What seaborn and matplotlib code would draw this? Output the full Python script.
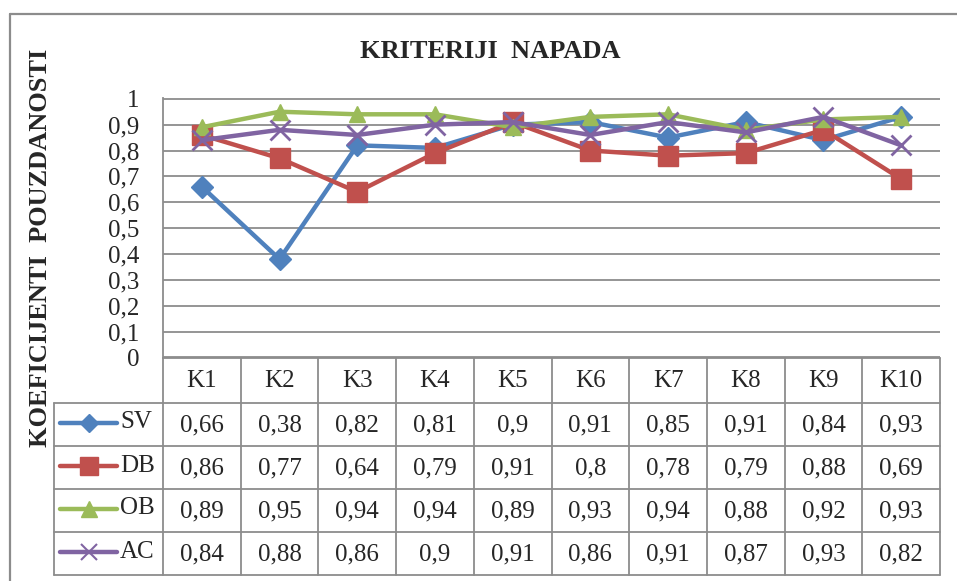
import matplotlib
matplotlib.use("Agg")
import matplotlib.pyplot as plt
import seaborn as sns
import pandas as pd

# podaci
kriteriji = ["K1", "K2", "K3", "K4", "K5", "K6", "K7", "K8", "K9", "K10"]
sv = [0.66, 0.38, 0.82, 0.81, 0.90, 0.91, 0.85, 0.91, 0.84, 0.93]
db = [0.86, 0.77, 0.64, 0.79, 0.91, 0.80, 0.78, 0.79, 0.88, 0.69]
ob = [0.89, 0.95, 0.94, 0.94, 0.89, 0.93, 0.94, 0.88, 0.92, 0.93]
ac = [0.84, 0.88, 0.86, 0.90, 0.91, 0.86, 0.91, 0.87, 0.93, 0.82]
serije = ["SV", "DB", "OB", "AC"]
y_ticks = [0, 0.1, 0.2, 0.3, 0.4, 0.5, 0.6, 0.7, 0.8, 0.9, 1.0]

vrijednosti = {"SV": sv, "DB": db, "OB": ob, "AC": ac}
df = pd.DataFrame([
    {"kriterij": i, "serija": s, "vrijednost": v}
    for s in serije for i, v in enumerate(vrijednosti[s])
])

boje = {"SV": "#4F81BD", "DB": "#C0504D", "OB": "#9BBB59", "AC": "#8064A2"}
markeri = {"SV": "D", "DB": "s", "OB": "^", "AC": "x"}
vel = {"SV": 11, "DB": 14, "OB": 12, "AC": 14}
vel_leg = {"SV": 9, "DB": 13, "OB": 11, "AC": 12}
siva = "#8C8C8C"

sns.set_theme(style="white")
plt.rcParams['font.family'] = ['Liberation Serif', 'DejaVu Serif']

W, H = 957, 581
fig = plt.figure(figsize=(W / 100, H / 100), dpi=100)

# okvir
fig.add_artist(plt.Line2D([10 / W, 1], [1 - 13.5 / H, 1 - 13.5 / H], color=siva, lw=1.6))
fig.add_artist(plt.Line2D([10 / W, 10 / W], [0, 1 - 13.5 / H], color=siva, lw=1.6))

col_w = (940 - 163) / 10
ax = fig.add_axes([163 / W, 1 - 358 / H, 777 / W, 260 / H])
for s in serije:
    d = df[df["serija"] == s]
    sns.lineplot(data=d, x="kriterij", y="vrijednost", ax=ax, color=boje[s],
                 marker=markeri[s], markersize=vel[s], linewidth=3.2,
                 markeredgecolor=boje[s], markeredgewidth=2 if s == "AC" else 1,
                 clip_on=False, zorder=3)
ax.set_xlim(-0.5, 9.5)
ax.set_ylim(-0.002, 1.003)
ax.set_yticks(y_ticks)
ax.set_yticklabels([("%g" % t).replace(".", ",") for t in y_ticks], fontsize=18)
ax.set_xticks([])
ax.tick_params(axis="y", length=0, pad=17)
ax.grid(axis="y", color=siva, lw=1.3)
ax.set_xlabel("")
ax.set_ylabel("")
for sp in ["top", "right", "bottom"]:
    ax.spines[sp].set_visible(False)
ax.spines["left"].set_color(siva)
ax.spines["left"].set_linewidth(1.3)

# tablica podataka
x0 = -0.5 - (163 - 54) / col_w
tab = fig.add_axes([54 / W, 1 - 575 / H, (940 - 54) / W, 217 / H])
tab.set_xlim(x0, 9.5)
tab.set_ylim(217, 0)
tab.axis("off")
redovi = [0, 45, 88, 131, 174, 217]
lk = dict(color=siva, lw=1.3, clip_on=False)
tab.plot([-0.5, 9.5], [0, 0], **lk)
for r in redovi[1:]:
    tab.plot([x0, 9.5], [r, r], **lk)
tab.plot([x0, x0], [45, 217], **lk)
for j in range(11):
    tab.plot([j - 0.5, j - 0.5], [0, 217], **lk)
for j, k in enumerate(kriteriji):
    tab.text(j, 23, k, ha="center", va="center", fontsize=18)
for i, s in enumerate(serije):
    yc = (redovi[i + 1] + redovi[i + 2]) / 2
    for j, v in enumerate(vrijednosti[s]):
        tab.text(j, yc + 1, ("%g" % v).replace(".", ","), ha="center", va="center", fontsize=18)
    xa = x0 + 6 / col_w
    xb = x0 + 63 / col_w
    tab.plot([xa, xb], [yc - 2, yc - 2], color=boje[s], lw=3.2, solid_capstyle="round")
    tab.plot([(xa + xb) / 2], [yc - 2], marker=markeri[s], markersize=vel_leg[s],
             color=boje[s], markeredgewidth=1.5 if s == "AC" else 1, linestyle="none")
    tab.text(x0 + 66 / col_w, yc - 2, s, ha="left", va="center", fontsize=18)

fig.text(490 / W, 1 - 52 / H, "KRITERIJI  NAPADA", ha="center", va="center",
         fontsize=19, fontweight="bold")
fig.text(41 / W, 1 - 248 / H, "KOEFICIJENTI  POUZDANOSTI", ha="center", va="center",
         rotation=90, fontsize=19, fontweight="bold")

fig.savefig("out.png", dpi=100)
